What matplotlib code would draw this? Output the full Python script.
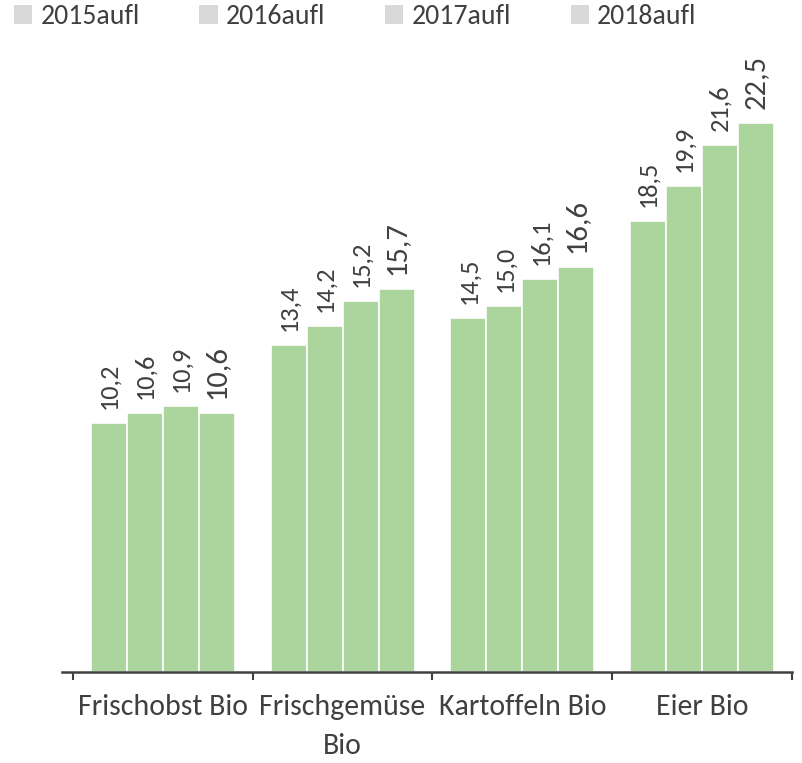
import matplotlib
matplotlib.use("Agg")
import matplotlib.pyplot as plt
from matplotlib.patches import Patch
import numpy as np

categories = ["Frischobst Bio", "Frischgemüse\nBio", "Kartoffeln Bio", "Eier Bio"]
series = ["2015aufl", "2016aufl", "2017aufl", "2018aufl"]
values = {
    "2015aufl": [10.2, 13.4, 14.5, 18.5],
    "2016aufl": [10.6, 14.2, 15.0, 19.9],
    "2017aufl": [10.9, 15.2, 16.1, 21.6],
    "2018aufl": [10.6, 15.7, 16.6, 22.5],
}

plt.rcParams['font.family'] = ['Carlito', 'DejaVu Sans']
bar_color = '#acd59d'
text_color = '#404040'

fig = plt.figure(figsize=(8.03, 7.63), dpi=100)
ax = fig.add_axes([62/803, 1-672/763, (792-62)/803, (672-62)/763])

x = np.arange(len(categories))
w = 0.2
for i, s in enumerate(series):
    pos = x + (i - 1.5) * w
    bars = ax.bar(pos, values[s], width=w, color=bar_color, edgecolor='white', linewidth=1.2)
    fs = 22 if i == 3 else 19
    for b, v in zip(bars, values[s]):
        ax.annotate(f"{v:.1f}".replace('.', ','), (b.get_x() + b.get_width()/2, v),
                    xytext=(0, 14), textcoords='offset pixels', rotation=90,
                    ha='center', va='bottom', fontsize=fs, color=text_color)

ax.set_xlim(-0.561, 3.5)
ax.set_ylim(0, 25)
for sp in ['top', 'right', 'left']:
    ax.spines[sp].set_visible(False)
ax.spines['bottom'].set_color(text_color)
ax.spines['bottom'].set_linewidth(1.8)
ax.set_yticks([])
ax.set_xticks([-0.5, 0.5, 1.5, 2.5, 3.5])
ax.set_xticklabels([])
ax.tick_params(axis='x', length=6, width=1.5, color=text_color, direction='out')
ax.set_xticks(x, minor=True)
ax.set_xticklabels(categories, minor=True, fontsize=21.5, color=text_color, linespacing=1.6)
ax.tick_params(axis='x', which='minor', length=0, pad=16)

handles = [Patch(facecolor='#d9d9d9', edgecolor='none') for _ in series]
fig.legend(handles, series, loc='upper left', bbox_to_anchor=(14/803, 1 - 4/763), ncol=4,
           frameon=False, fontsize=20, handlelength=0.65, handleheight=0.65,
           handletextpad=0.3, columnspacing=2.15, labelcolor=text_color,
           borderpad=0, borderaxespad=0)

fig.savefig("out.png", dpi=100)
